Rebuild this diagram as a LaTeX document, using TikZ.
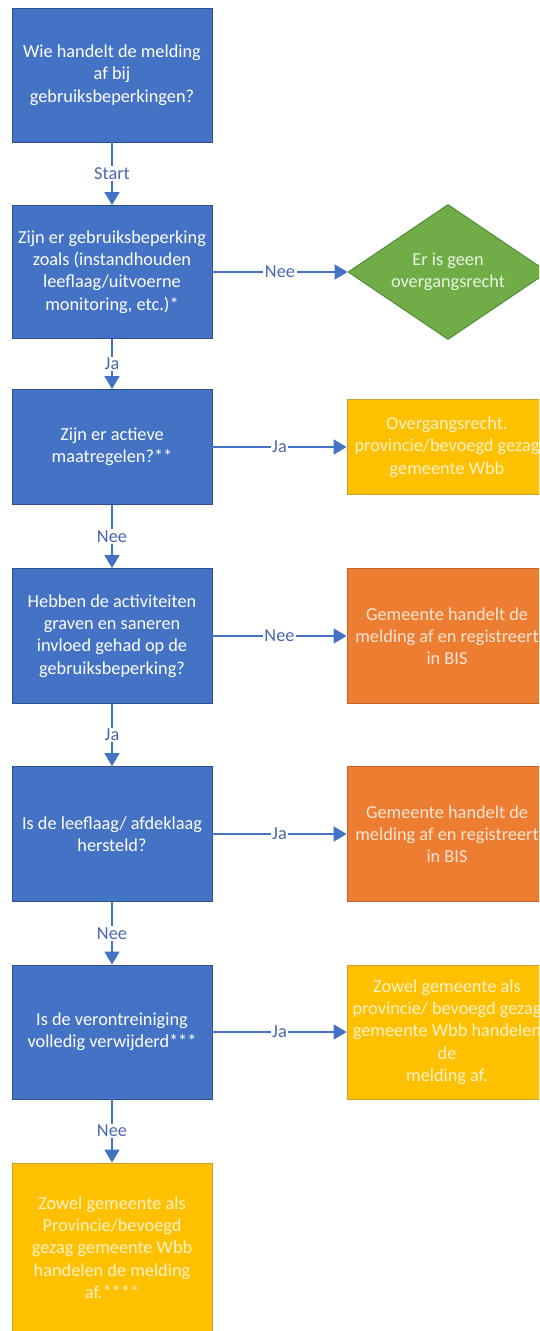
\documentclass[tikz,border=0pt]{standalone}
\usepackage{fontspec}
\setmainfont{Carlito}
\usetikzlibrary{shapes.geometric,arrows.meta}
\definecolor{qblue}{HTML}{4472C4}
\definecolor{qblueb}{HTML}{2F528F}
\definecolor{qgreen}{HTML}{70AD47}
\definecolor{qgreenb}{HTML}{507E32}
\definecolor{qgreent}{HTML}{EAF4E2}
\definecolor{qyel}{HTML}{FFC000}
\definecolor{qyelb}{HTML}{C9A227}
\definecolor{qyelt}{HTML}{FFF2CC}
\definecolor{qor}{HTML}{ED7D31}
\definecolor{qorb}{HTML}{C0642A}
\definecolor{qort}{HTML}{FBE5D6}
\definecolor{qlab}{HTML}{4A68AE}
\tikzset{
  base/.style={inner sep=2pt, align=center, font=\fontsize{18.3}{22.3}\selectfont, line width=0.8pt},
  qbox/.style={base, rectangle, draw=qblueb, fill=qblue, text=white, minimum width=200pt},
  ybox/.style={base, rectangle, draw=qyelb, fill=qyel, text=qyelt, minimum width=200pt},
  obox/.style={base, rectangle, draw=qorb, fill=qor, text=qort, minimum width=200pt},
  dec/.style={base, diamond, aspect=1.48, draw=qgreenb, fill=qgreen, text=qgreent, minimum width=200pt, minimum height=135pt, inner sep=0pt},
  conn/.style={draw=qblue, line width=1.6pt, -{Triangle[length=13pt,width=15pt]}},
  lab/.style={fill=white, text=qlab, inner sep=1.5pt, font=\fontsize{18.3}{22}\selectfont}
}
\begin{document}
\begin{tikzpicture}[x=1pt,y=-1pt]
\useasboundingbox (0,0) rectangle (539,1331);
\fill[white] (0,0) rectangle (539,1331);
\clip (0,0) rectangle (539,1331);
% left column
\node[qbox, minimum height=134pt] (b1) at (112,75) {Wie handelt de melding\\af bij\\gebruiksbeperkingen?};
\node[qbox, minimum height=133pt] (b2) at (112,272) {Zijn er gebruiksbeperking\\zoals (instandhouden\\leeflaag/uitvoerne\\monitoring, etc.)*};
\node[qbox, minimum height=115pt] (b3) at (112,447) {Zijn er actieve\\maatregelen?**};
\node[qbox, minimum height=135pt] (b4) at (112,636) {Hebben de activiteiten\\graven en saneren\\invloed gehad op de\\gebruiksbeperking?};
\node[qbox, minimum height=135pt] (b5) at (112,834) {Is de leeflaag/ afdeklaag\\hersteld?};
\node[qbox, minimum height=134pt] (b6) at (112,1032) {Is de verontreiniging\\volledig verwijderd***};
\node[ybox, minimum height=169pt] (b7) at (112,1247.5) {Zowel gemeente als\\Provincie/bevoegd\\gezag gemeente Wbb\\handelen de melding\\af.****};
% right column
\node[dec] (d) at (448,272) {Er is geen\\overgangsrecht};
\node[ybox, minimum height=95pt] (y3) at (447,447) {Overgangsrecht.\\provincie/bevoegd gezag\\gemeente Wbb};
\node[obox, minimum height=135pt] (o4) at (447,636) {Gemeente handelt de\\melding af en registreert\\in BIS};
\node[obox, minimum height=135pt] (o5) at (447,834) {Gemeente handelt de\\melding af en registreert\\in BIS};
\node[ybox, minimum height=134pt] (y6) at (447,1032) {Zowel gemeente als\\provincie/ bevoegd gezag\\gemeente Wbb handelen\\de\\melding af.};
% vertical connectors
\draw[conn] (b1) -- node[lab]{Start} (b2);
\draw[conn] (b2) -- node[lab]{Ja} (b3);
\draw[conn] (b3) -- node[lab]{Nee} (b4);
\draw[conn] (b4) -- node[lab]{Ja} (b5);
\draw[conn] (b5) -- node[lab]{Nee} (b6);
\draw[conn] (b6) -- node[lab]{Nee} (b7);
% horizontal connectors
\draw[conn] (b2) -- node[lab]{Nee} (d);
\draw[conn] (b3) -- node[lab]{Ja} (y3);
\draw[conn] (b4) -- node[lab]{Nee} (o4);
\draw[conn] (b5) -- node[lab]{Ja} (o5);
\draw[conn] (b6) -- node[lab]{Ja} (y6);
\end{tikzpicture}
\end{document}
